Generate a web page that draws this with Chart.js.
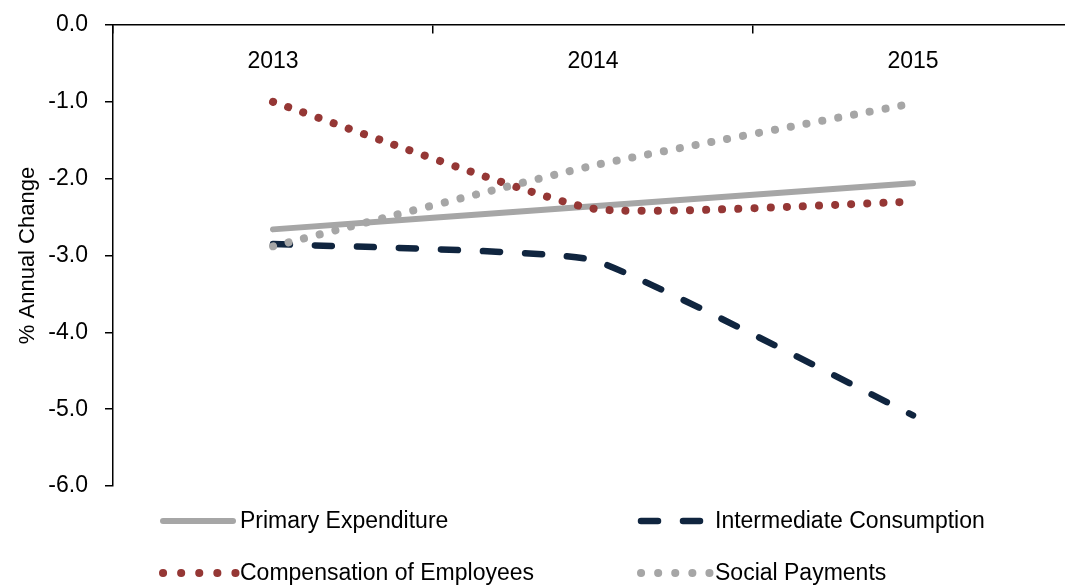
<!DOCTYPE html>
<html>
<head>
<meta charset="utf-8">
<script src="https://cdn.jsdelivr.net/npm/chart.js@4/dist/chart.umd.min.js"></script>
<style>
  html, body { margin: 0; padding: 0; background: #fff; overflow: hidden; }
  #wrap { position: relative; width: 1075px; height: 588px; }
</style>
</head>
<body>
<div id="wrap"><canvas id="c"></canvas></div>
<script>
// ---- data ----
const years = ['2013', '2014', '2015'];
const primaryExpenditure = [-2.66, -2.36, -2.06];
const intermediateConsumption = [-2.85, -3.06, -5.08];
const compensationOfEmployees = [-1.00, -2.39, -2.30];
const socialPayments = [-2.88, -1.83, -1.02];
const seriesNames = ['Primary Expenditure', 'Intermediate Consumption', 'Compensation of Employees', 'Social Payments'];
const yTicks = [0, -1, -2, -3, -4, -5, -6];
const yTitle = '% Annual Change';

const FONT = 'Liberation Sans, Arial, sans-serif';
const FS = 23;

const legendPlugin = {
  id: 'customLegend',
  afterDraw(chart) {
    const ctx = chart.ctx;
    const slots = [
      { x0: 163, x1: 233, tx: 240, y: 521 },
      { x0: 641, x1: 706, tx: 715, y: 521 },
      { x0: 163, x1: 236, tx: 240, y: 573 },
      { x0: 641, x1: 710, tx: 715, y: 573 }
    ];
    chart.data.datasets.forEach((ds, i) => {
      const s = slots[i];
      ctx.save();
      ctx.strokeStyle = ds.borderColor;
      ctx.lineWidth = ds.borderWidth;
      ctx.lineCap = 'round';
      ctx.setLineDash(ds.legendDash || []);
      ctx.beginPath();
      ctx.moveTo(s.x0, s.y);
      ctx.lineTo(s.x1, s.y);
      ctx.stroke();
      ctx.restore();
      ctx.save();
      ctx.fillStyle = '#000';
      ctx.font = FS + 'px ' + FONT;
      ctx.textBaseline = 'middle';
      ctx.textAlign = 'left';
      ctx.fillText(ds.label, s.tx, s.y + 1);
      ctx.restore();
    });
  }
};

new Chart(document.getElementById('c'), {
  type: 'line',
  data: {
    labels: years,
    datasets: [
      {
        label: seriesNames[0], data: primaryExpenditure,
        borderColor: '#A6A6A6', borderWidth: 6, borderCapStyle: 'round',
        tension: 0.15, pointRadius: 0, order: 4, legendDash: []
      },
      {
        label: seriesNames[1], data: intermediateConsumption,
        borderColor: '#10253F', borderWidth: 6.5, borderCapStyle: 'round',
        borderDash: [17, 25], tension: 0.12, pointRadius: 0, order: 3, legendDash: [17, 25]
      },
      {
        label: seriesNames[2], data: compensationOfEmployees,
        borderColor: '#953735', borderWidth: 8, borderCapStyle: 'round',
        borderDash: [0.1, 16], tension: 0.15, pointRadius: 0, order: 2, legendDash: [0.1, 18]
      },
      {
        label: seriesNames[3], data: socialPayments,
        borderColor: '#A6A6A6', borderWidth: 8, borderCapStyle: 'round',
        borderDash: [0.1, 16], tension: 0.15, pointRadius: 0, order: 1, legendDash: [0.1, 17]
      }
    ]
  },
  options: {
    responsive: true,
    maintainAspectRatio: false,
    animation: false,
    layout: { padding: { top: 25, right: 2, bottom: 102, left: 0 } },
    plugins: {
      legend: { display: false },
      tooltip: { enabled: false }
    },
    scales: {
      x: {
        type: 'category',
        position: { y: 0 },
        offset: true,
        grid: { drawOnChartArea: false, drawTicks: true, tickLength: 8, color: '#000', lineWidth: 1.5, offset: true },
        border: { display: true, color: '#000', width: 1.5 },
        ticks: { color: '#000', font: { family: FONT, size: FS }, padding: 15, maxRotation: 0 }
      },
      y: {
        min: -6, max: 0,
        afterBuildTicks: (s) => { s.ticks = yTicks.map(v => ({ value: v })); },
        afterFit: (s) => { s.width = 113; },
        grid: { drawOnChartArea: false, drawTicks: true, tickLength: 8, color: '#000', lineWidth: 1.5 },
        border: { display: true, color: '#000', width: 1.5 },
        ticks: {
          color: '#000', font: { family: FONT, size: FS, lineHeight: 0.3 }, padding: 17,
          callback: (v) => Number(v).toFixed(1)
        },
        title: {
          display: true, text: yTitle, color: '#000',
          font: { family: FONT, size: 22 }, padding: { top: 15, bottom: 0 }
        }
      }
    }
  },
  plugins: [legendPlugin]
});
</script>
</body>
</html>
